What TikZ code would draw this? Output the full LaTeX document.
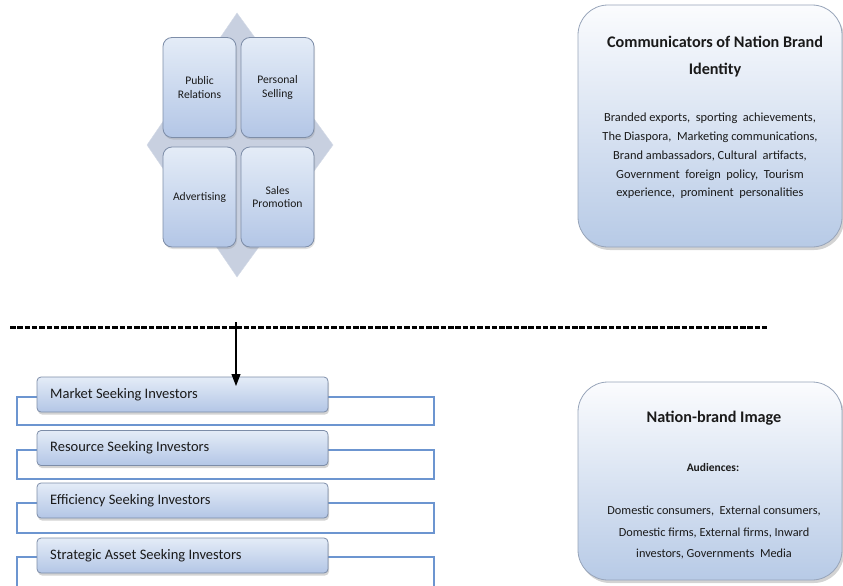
\documentclass[tikz,border=0pt]{standalone}
\usepackage{fontspec}
\setmainfont{Carlito}
\usetikzlibrary{shadows,arrows.meta}
\definecolor{boxtop}{HTML}{E4ECF7}
\definecolor{boxbot}{HTML}{B3C6E6}
\definecolor{boxline}{HTML}{7D8DA8}
\definecolor{bigtop}{HTML}{FBFCFE}
\definecolor{bigbot}{HTML}{B7CAE6}
\definecolor{diamondfill}{HTML}{C8D0E0}
\definecolor{bracketc}{HTML}{6C95D0}
\definecolor{txt}{HTML}{1A1A1A}
\tikzset{
  mixbox/.style={draw=boxline, line width=0.8pt, rounded corners=9pt, top color=boxtop, bottom color=boxbot,
    minimum width=73pt, minimum height=100pt, inner sep=0pt, align=center, text=txt,
    font=\fontsize{11.6}{13.5}\selectfont, drop shadow={shadow xshift=1pt, shadow yshift=-2pt, opacity=0.25}},
  bigbox/.style={draw=boxline!80, line width=0.8pt, rounded corners=30pt, top color=bigtop, bottom color=bigbot,
    minimum width=264pt, inner sep=0pt,
    drop shadow={shadow xshift=2pt, shadow yshift=-3pt, opacity=0.35}},
  invbox/.style={draw=boxline, line width=0.8pt, rounded corners=4pt, top color=boxtop, bottom color=boxbot,
    minimum width=291pt, minimum height=35pt, inner sep=0pt, text=txt,
    drop shadow={shadow xshift=1pt, shadow yshift=-2.5pt, opacity=0.35}},
  invtext/.style={anchor=west, text=txt, font=\fontsize{14.5}{16}\selectfont, inner sep=0pt},
  bracketline/.style={draw=bracketc, line width=1.2pt},
  bigtitle/.style={text=txt, font=\bfseries\fontsize{16.2}{27}\selectfont, align=center, inner sep=0pt},
  bigbody/.style={text=txt, font=\fontsize{12.4}{18.8}\selectfont, align=center, inner sep=0pt}
}
\begin{document}
\begin{tikzpicture}[x=1pt,y=-1pt]
\useasboundingbox (0,0) rectangle (843,586);
% diamond
\path[fill=diamondfill, draw=diamondfill!80!white] (237,13) -- (333,145) -- (237,277) -- (147,145) -- cycle;
% four boxes
\node[mixbox] (pr) at (199.5,87.5) {Public\\Relations};
\node[mixbox] (ps) at (277.5,87.5) {Personal\\Selling};
\node[mixbox] (ad) at (199.5,197) {Advertising};
\node[mixbox] (sp) at (277.5,197) {Sales\\Promotion};
% big boxes
\node[bigbox, minimum height=242pt] (comm) at (710,126) {};
\node[bigtitle] (commt) at (715,56.5) {Communicators of Nation Brand\\Identity};
\node[bigbody] (commb) at (710,156) {Branded exports,\ \ sporting\ \ achievements,\\The Diaspora,\ \ Marketing communications,\\Brand ambassadors, Cultural\ \ artifacts,\\Government\ \ foreign\ \ policy,\ \ Tourism\\experience,\ \ prominent\ \ personalities};
\node[bigbox, minimum height=198pt] (img) at (710,481) {};
\node[bigtitle] (imgt) at (714,418) {Nation-brand Image};
\node[text=txt, font=\bfseries\fontsize{11.5}{13}\selectfont, inner sep=0pt] (aud) at (713,468) {Audiences:};
\node[bigbody, font=\fontsize{12.3}{21.5}\selectfont] (imgb) at (714,533) {Domestic consumers,\ \ External consumers,\\Domestic firms, External firms, Inward\\investors, Governments\ \ Media};
% dashed separator
\coordinate (dl) at (10,327);
\coordinate (dr) at (768,327);
\draw[line width=3pt, dash pattern=on 5.5pt off 1.8pt] (dl) -- (dr);
% brackets
\draw[bracketline] (17,397) rectangle (434,425);
\draw[bracketline] (17,450) rectangle (434,479);
\draw[bracketline] (17,503) rectangle (434,533);
\draw[bracketline] (17,590) -- (17,557) -- (434,557) -- (434,590);
% investor boxes
\node[invbox] (m) at (182.5,394.5) {};
\node[invtext] at (50,394.5) {Market Seeking Investors};
\node[invbox] (r) at (182.5,448) {};
\node[invtext] at (50,448) {Resource Seeking Investors};
\node[invbox] (e) at (182.5,500.5) {};
\node[invtext] at (50,500.5) {Efficiency Seeking Investors};
\node[invbox] (s) at (182.5,555.5) {};
\node[invtext] at (50,555.5) {Strategic Asset Seeking Investors};
% arrow
\coordinate (atop) at (236,322);
\coordinate (atip) at (236,386);
\draw[line width=1.1pt, -{Triangle[length=12pt,width=9pt]}] (atop) -- (atip);
\end{tikzpicture}
\end{document}
